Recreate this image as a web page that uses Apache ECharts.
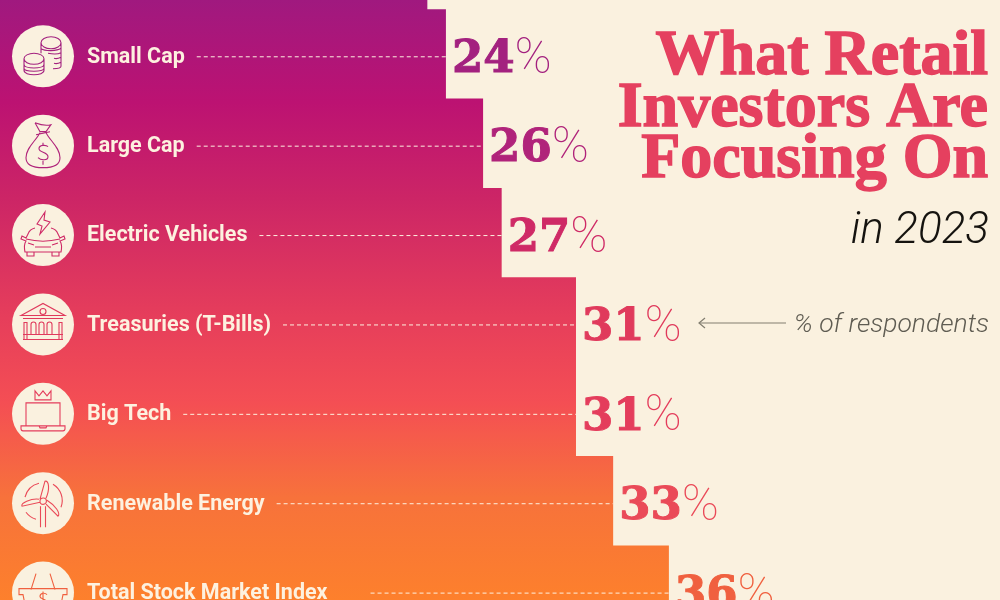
<!DOCTYPE html>
<html>
<head>
<meta charset="utf-8">
<title>What Retail Investors Are Focusing On</title>
<script src="https://cdn.jsdelivr.net/npm/echarts@6/dist/echarts.min.js"></script>
<style>
  html, body { margin: 0; padding: 0; background: #faf1df; }
  #chart { width: 1000px; height: 600px; }
</style>
</head>
<body>
<div id="chart"></div>
<script>
// first row sits above the crop, only its bar end shows at the top edge
const categories = ['', 'Small Cap', 'Large Cap', 'Electric Vehicles', 'Treasuries (T-Bills)', 'Big Tech', 'Renewable Energy', 'Total Stock Market Index'];
const values = [23, 24, 26, 27, 31, 31, 33, 36];
const rowColors = ['#9e1c80', '#a3217f', '#b0237a', '#cf2a66', '#e03a5c', '#e43d5c', '#ea4a58', '#f0603f'];

const cream = '#faf1df';
const labelFont = '700 21.5px Roboto';

// line icons, drawn around the centre of each circle
const icons = {
  'Small Cap': 'M-2,-13.5 A10,6 0 1 1 18,-13.5 A10,6 0 1 1 -2,-13.5 M-2,-13.5 L-2,-3 M18,-13.5 L18,10 C18,12 14,12.5 10,12.5 M-2,-7.5 C2,-5 14,-5 18,-8 M5,-3 C10,-2 15,-2 18,-3.5 M11,2 C14,3 16,2 18,1 M11,7 C14,8 16,7 18,6 M-19,2.5 A10,5.5 0 1 1 1,2.5 A10,5.5 0 1 1 -19,2.5 M-19,2.5 L-19,14 C-19,20 1,20 1,14 L1,2.5 M-19,8 C-19,13 1,13 1,8 M-19,12 C-19,16 1,16 1,12',
  'Large Cap': 'M-3,-13 C-7,-5 -17,2 -17,12 C-17,19 -10,22 0,22 C10,22 17,19 17,12 C17,2 7,-5 3,-13 M-8,-23 L-3,-14 L3,-14 L8,-21 C4,-20 -3,-21 -8,-23 M-7,-11 L7,-14 M5,1 C3,-1 -4,-1 -4,3 C-4,7 5,6 5,11 C5,15 -2,15 -5,12 M0,-3 L0,-1 M0,15 L0,19',
  'Electric Vehicles': 'M2,-23 L-6,-11 L-1,-9 L-3,-1 L7,-13 L1,-15 Z M-8,-7 C-12,-6 -14,-4 -15,-1 L-17,3 L-21,1 L-22,4 L-17,6 C-19,9 -19,12 -18,17 L18,17 C19,12 19,9 17,6 L22,4 L21,1 L17,3 L15,-1 C14,-4 12,-6 8,-7 M-17,4 C-5,7 5,7 17,4 M-15,8 L-9,10 M15,8 L9,10 M-8,12 L8,12 M-16,17 L-16,21 L-9,21 L-9,17 M16,17 L16,21 L9,21 L9,17',
  'Treasuries (T-Bills)': 'M-22,-9 L0,-21 L22,-9 Z M-20,-6 L20,-6 M-3,-13 A3,3 0 1 1 3,-13 A3,3 0 1 1 -3,-13 M-19,15 L-19,-2 L-16,-2 L-16,15 M-19,-2 L-16,-2 M-12,10 L-12,0 A2.5,2.5 0 0 1 -7,0 L-7,10 M-4,10 L-4,0 A2.5,2.5 0 0 1 1,0 L1,10 M4,10 L4,0 A2.5,2.5 0 0 1 9,0 L9,10 M16,15 L16,-2 L19,-2 L19,15 M-20,10 L20,10 M-20,15 L20,15',
  'Big Tech': 'M-8,-23 L-4,-18 L0,-23 L4,-18 L8,-23 L8,-14 L-8,-14 Z M-17,12 L-17,-11 L17,-11 L17,12 M-22,12 L22,12 L22,15 C22,16 21,17 20,17 L-20,17 C-21,17 -22,16 -22,15 Z M-4,12 L-3,14 L3,14 L4,12',
  'Renewable Energy': 'M-3,-4 L2,-22 C6,-23 7,-14 3,-5 M-3,-1 L-21,3 C-23,0 -12,-5 -4,-4 M3,1 L15,13 C18,10 12,2 4,-3 M-3,-2 A3.2,3.2 0 1 1 3.4,-2 A3.2,3.2 0 1 1 -3,-2 M-2.5,3 L-2.5,24 M2.5,3 L2.5,24 M-18,-6 A19,19 0 0 1 -4,-20 M10,-19 A19,19 0 0 1 18,4 M-17,9 A19,19 0 0 0 -7,16',
  'Total Stock Market Index': 'M-7,-19 L-12,-3 M7,-19 L12,-3 M-24,-4 L24,-4 L24,2 L20,2 L16,22 L-16,22 L-20,2 L-24,2 Z M4,2 C2,0 -3,0 -3,4 C-3,7 4,6 4,10 M0,-1 L0,14'
};

const measure = document.createElement('canvas').getContext('2d');
measure.font = labelFont;

const numStyle = i => ({
  color: rowColors[i], fontFamily: 'DejaVu Serif', fontWeight: 'bold', fontSize: 45,
  textBorderColor: rowColors[i], textBorderWidth: 1
});
const pctStyle = i => ({
  color: rowColors[i], fontFamily: 'Roboto', fontWeight: 100, fontSize: 50
});

const chart = echarts.init(document.getElementById('chart'), null, { renderer: 'canvas' });

chart.setOption({
  animation: false,
  backgroundColor: cream,
  title: [
    {
      text: 'What Retail\nInvestors Are\nFocusing On',
      left: 983, top: 27, textAlign: 'right', z: 10,
      textStyle: {
        fontFamily: 'Liberation Serif', fontWeight: 'bold', fontSize: 64, lineHeight: 51.5,
        color: '#e5405f', textBorderColor: '#e5405f', textBorderWidth: 1.5
      }
    },
    {
      text: 'in 2023',
      left: 984, top: 205, textAlign: 'right', z: 10,
      textStyle: { fontFamily: 'Roboto', fontStyle: 'italic', fontWeight: 300, fontSize: 44, color: '#15130f' }
    },
    {
      text: '% of respondents',
      left: 984, top: 307, textAlign: 'right', z: 10,
      textStyle: { fontFamily: 'Roboto', fontStyle: 'italic', fontWeight: 300, fontSize: 26.5, color: '#5f5c52' }
    }
  ],
  graphic: [
    {
      type: 'polyline', z: 10,
      shape: { points: [[705, 318], [699, 323], [705, 328]] },
      style: { stroke: '#827e70', fill: null, lineWidth: 1.2 }
    },
    {
      type: 'line', z: 10,
      shape: { x1: 699, y1: 323, x2: 786, y2: 323 },
      style: { stroke: '#827e70', lineWidth: 1.2 }
    }
  ],
  grid: { left: 0, right: 0, top: -79.8, bottom: -35.3, outerBoundsMode: 'none' },
  xAxis: { type: 'value', min: 0, max: 53.82, show: false },
  yAxis: {
    type: 'category',
    inverse: true,
    data: categories,
    z: 5,
    axisLine: { show: false },
    axisTick: { show: false },
    axisLabel: {
      inside: true, margin: 87, interval: 0, verticalAlign: 'top', lineHeight: 6,
      color: '#fdf1df', fontFamily: 'Roboto', fontWeight: 700, fontSize: 21.5
    }
  },
  series: [
    {
      type: 'bar',
      barWidth: '101%',
      silent: true,
      itemStyle: {
        color: {
          type: 'linear', x: 0, y: 0, x2: 0, y2: 600, global: true,
          colorStops: [
            { offset: 0, color: '#a0197f' },
            { offset: 0.17, color: '#bc1272' },
            { offset: 0.33, color: '#cc2566' },
            { offset: 0.53, color: '#e63e5b' },
            { offset: 0.67, color: '#f44e54' },
            { offset: 0.83, color: '#f7723b' },
            { offset: 1, color: '#fd802c' }
          ]
        }
      },
      label: {
        show: true, position: 'right', distance: 6, offset: [0, 6],
        formatter: p => '{n|' + p.value + '}{p|%}'
      },
      data: values.map((v, i) => ({
        value: v,
        label: { rich: { n: numStyle(i), p: pctStyle(i) } }
      }))
    },
    {
      // leader lines, circles and icons
      type: 'custom',
      silent: true,
      z: 4,
      data: values.map((v, i) => [v, i]),
      encode: { x: 0, y: 1 },
      renderItem: (params, api) => {
        const i = api.value(1);
        const name = categories[i];
        if (!name) return null;
        const end = api.coord([api.value(0), i]);
        const y = end[1] + 2;
        // the last leader starts further from its label in the reference
        const gap = i === categories.length - 1 ? 43 : 12;
        const start = 87 + measure.measureText(name).width + gap;
        return {
          type: 'group',
          children: [
            {
              type: 'line',
              shape: { x1: start, y1: y + 0.5, x2: end[0], y2: y + 0.5 },
              style: { stroke: '#fdf1df', lineWidth: 1, lineDash: [4, 3] }
            },
            {
              type: 'circle',
              shape: { cx: 43, cy: y, r: 31 },
              style: { fill: cream }
            },
            {
              type: 'path',
              x: 43, y: y,
              shape: { pathData: icons[name] },
              style: { fill: 'none', stroke: rowColors[i], lineWidth: 1.1 }
            }
          ]
        };
      }
    }
  ]
});
</script>
</body>
</html>
